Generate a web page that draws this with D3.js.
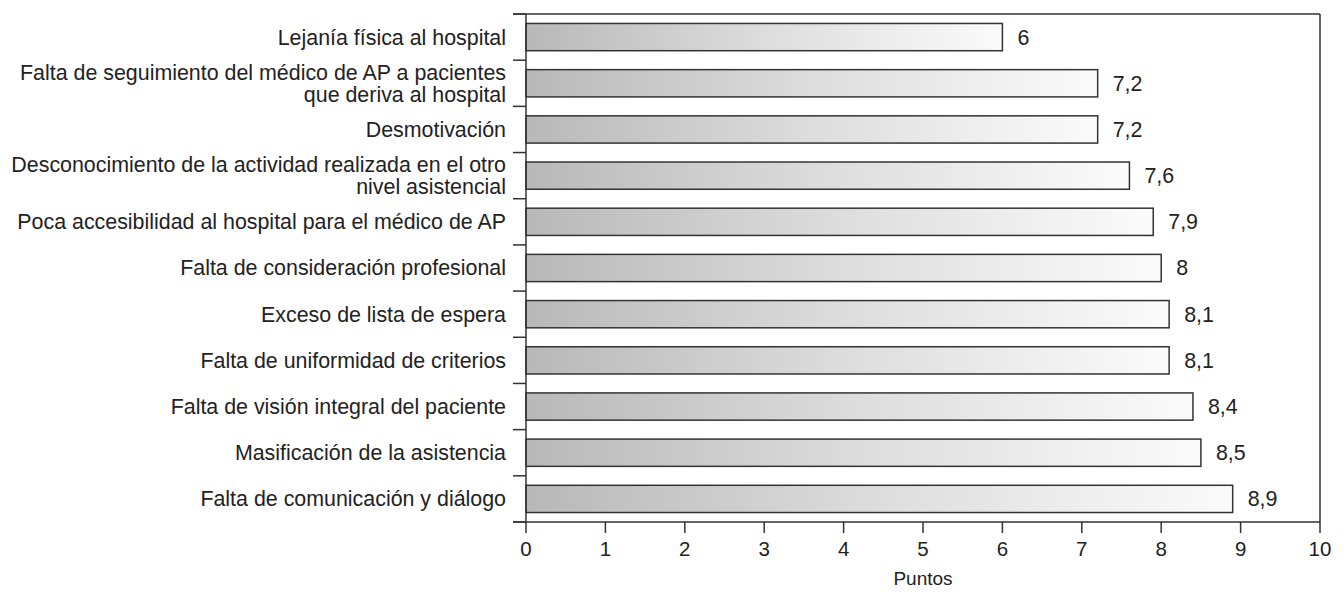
<!DOCTYPE html>
<html>
<head>
<meta charset="utf-8">
<script src="https://cdn.jsdelivr.net/npm/d3@7"></script>
<style>
  body { margin: 0; background: #fff; }
  svg text { font-family: "Liberation Sans", Arial, Helvetica, sans-serif; fill: #222; }
</style>
</head>
<body>
<svg id="chart" width="1344" height="592"></svg>
<script>
// categories, top to bottom (label lines)
const categories = [
  ["Lejanía física al hospital"],
  ["Falta de seguimiento del médico de AP a pacientes", "que deriva al hospital"],
  ["Desmotivación"],
  ["Desconocimiento de la actividad realizada en el otro", "nivel asistencial"],
  ["Poca accesibilidad al hospital para el médico de AP"],
  ["Falta de consideración profesional"],
  ["Exceso de lista de espera"],
  ["Falta de uniformidad de criterios"],
  ["Falta de visión integral del paciente"],
  ["Masificación de la asistencia"],
  ["Falta de comunicación y diálogo"]
];
const values = [6, 7.2, 7.2, 7.6, 7.9, 8, 8.1, 8.1, 8.4, 8.5, 8.9];
const xTicks = [0, 1, 2, 3, 4, 5, 6, 7, 8, 9, 10];
const xTitle = "Puntos";

/* Parameters and scales */
const svg = d3.select("#chart");
const plotLeft = 526, plotRight = 1320, plotTop = 14, plotBottom = 522;
const frameColor = "#333";
const fontSize = 21.4;

const x = d3.scaleLinear()
            .domain([0, 10])
            .range([plotLeft, plotRight]);
const y = d3.scaleBand()
            .domain(d3.range(categories.length))
            .range([plotTop, plotBottom])
            .paddingInner(0.41)
            .paddingOuter(0.205);

// gradient for bars
const grad = svg.append("defs").append("linearGradient")
  .attr("id", "barGrad")
  .attr("x1", "0%").attr("x2", "100%").attr("y1", "0%").attr("y2", "0%");
grad.append("stop").attr("offset", "0%").attr("stop-color", "#b8b8b8");
grad.append("stop").attr("offset", "50%").attr("stop-color", "#dddddd");
grad.append("stop").attr("offset", "100%").attr("stop-color", "#fbfbfb");

// bars
svg.append("g").selectAll("rect")
  .data(values)
  .join("rect")
  .attr("x", x(0))
  .attr("y", (d, i) => y(i))
  .attr("width", d => x(d) - x(0))
  .attr("height", y.bandwidth())
  .attr("fill", "url(#barGrad)")
  .attr("stroke", frameColor)
  .attr("stroke-width", 1.5);

// value labels
svg.append("g").selectAll("text")
  .data(values)
  .join("text")
  .attr("x", d => x(d) + 15)
  .attr("y", (d, i) => y(i) + y.bandwidth() / 2)
  .attr("dy", "0.35em")
  .attr("font-size", fontSize)
  .text(d => String(d).replace(".", ","));

// frame: top and right lines
svg.append("line")
  .attr("x1", plotLeft - 13).attr("x2", plotRight)
  .attr("y1", plotTop).attr("y2", plotTop)
  .attr("stroke", frameColor).attr("stroke-width", 1.5);
svg.append("line")
  .attr("x1", plotRight).attr("x2", plotRight)
  .attr("y1", plotTop).attr("y2", plotBottom)
  .attr("stroke", frameColor).attr("stroke-width", 1.5);

// left axis: band boundaries as ticks
const bounds = d3.range(categories.length + 1)
  .map(i => plotTop + i * (plotBottom - plotTop) / categories.length);
const yAxis = svg.append("g");
yAxis.append("line")
  .attr("x1", plotLeft).attr("x2", plotLeft)
  .attr("y1", plotTop).attr("y2", plotBottom)
  .attr("stroke", frameColor).attr("stroke-width", 1.5);
yAxis.selectAll(".ytick")
  .data(bounds)
  .join("line")
  .attr("class", "ytick")
  .attr("x1", plotLeft - 13).attr("x2", plotLeft)
  .attr("y1", d => d).attr("y2", d => d)
  .attr("stroke", frameColor).attr("stroke-width", 1.5);

// category labels
const labels = yAxis.selectAll(".ylabel")
  .data(categories)
  .join("text")
  .attr("class", "ylabel")
  .attr("text-anchor", "end")
  .attr("font-size", fontSize);
labels.each(function(lines, i) {
  const cy = y(i) + y.bandwidth() / 2;
  const lh = 22;
  const start = cy - (lines.length - 1) * lh / 2;
  d3.select(this).selectAll("tspan")
    .data(lines)
    .join("tspan")
    .attr("x", plotLeft - 20)
    .attr("y", (d, j) => start + j * lh)
    .attr("dy", "0.35em")
    .text(d => d);
});

// bottom axis
const xAxis = svg.append("g");
xAxis.append("line")
  .attr("x1", plotLeft - 13).attr("x2", plotRight)
  .attr("y1", plotBottom).attr("y2", plotBottom)
  .attr("stroke", frameColor).attr("stroke-width", 1.5);
xAxis.selectAll(".xtick")
  .data(xTicks)
  .join("line")
  .attr("class", "xtick")
  .attr("x1", d => x(d)).attr("x2", d => x(d))
  .attr("y1", plotBottom).attr("y2", plotBottom + 11)
  .attr("stroke", frameColor).attr("stroke-width", 1.5);
xAxis.selectAll(".xlabel")
  .data(xTicks)
  .join("text")
  .attr("class", "xlabel")
  .attr("x", d => x(d))
  .attr("y", 549)
  .attr("dy", "0.35em")
  .attr("text-anchor", "middle")
  .attr("font-size", 20.5)
  .text(d => d);

svg.append("text")
  .attr("x", (plotLeft + plotRight) / 2)
  .attr("y", 578)
  .attr("dy", "0.35em")
  .attr("text-anchor", "middle")
  .attr("font-size", 19)
  .text(xTitle);
</script>
</body>
</html>
